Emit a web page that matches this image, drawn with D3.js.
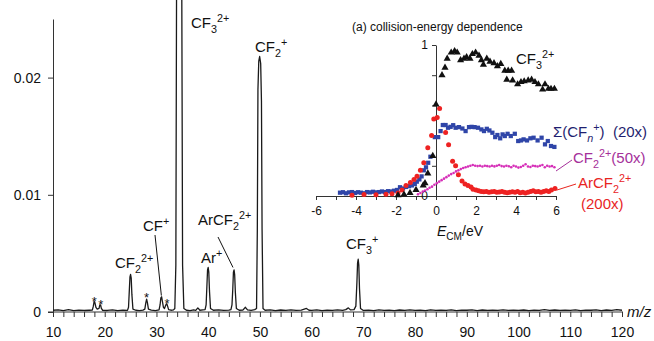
<!DOCTYPE html>
<html>
<head>
<meta charset="utf-8">
<script src="https://cdn.jsdelivr.net/npm/d3@7"></script>
<style>
  body { margin: 0; background: #fff; }
  svg { display: block; font-family: "Liberation Sans", Arial, sans-serif; }
  .axis path, .axis line { stroke: #333; }
</style>
</head>
<body>
<svg id="chart" width="654" height="341"></svg>
<script>
// main spectrum: [m/z, intensity]
const spectrum = [
  [10,0.00015],[11,0.00018],[12,0.00012],[13,0.0002],[14,0.00012],[15,0.00016],[16,0.00013],[17,0.00015],[17.6,0.00016],
  [17.8,0.0005],[17.95,0.0009],[18.1,0.0008],[18.3,0.0004],[18.55,0.00025],
  [18.9,0.0003],[19.05,0.0006],[19.2,0.0006],[19.35,0.0003],[19.6,0.00015],
  [20.5,0.00013],[21.5,0.00018],[22.5,0.00012],[23.5,0.00016],[24.4,0.00014],
  [24.6,0.0004],[24.75,0.0018],[24.88,0.003],[25,0.0032],[25.12,0.0029],[25.25,0.0015],[25.45,0.00025],
  [26,0.00015],[26.7,0.00012],[27.4,0.00016],
  [27.75,0.00025],[27.95,0.0008],[28.1,0.0011],[28.25,0.0008],[28.45,0.00025],
  [29,0.00016],[29.8,0.00012],[30.5,0.00018],
  [30.7,0.0006],[30.85,0.0012],[31,0.0013],[31.15,0.0009],[31.35,0.0004],
  [31.55,0.0003],[31.8,0.0006],[32,0.0007],[32.15,0.0005],[32.35,0.0002],
  [32.8,0.00015],[33.3,0.00018],
  [33.55,0.0003],[33.75,0.004],[33.9,0.03],[34.15,0.4],[34.6,0.4],[34.88,0.03],[35.05,0.004],[35.3,0.0003],
  [35.8,0.00015],[36.5,0.00012],[37.2,0.00018],[37.6,0.00014],[38,0.00035],[38.4,0.00015],[39,0.00018],[39.4,0.0002],
  [39.6,0.0006],[39.75,0.0022],[39.88,0.0036],[40,0.0038],[40.12,0.0034],[40.25,0.0018],[40.45,0.0003],
  [41,0.00015],[42,0.00018],[43,0.00013],[44,0.00016],[44.4,0.0002],
  [44.6,0.0006],[44.75,0.0019],[44.88,0.0034],[45,0.0036],[45.12,0.0032],[45.25,0.0017],[45.45,0.0003],
  [46,0.00015],[46.7,0.00016],[47.2,0.0004],[47.6,0.00018],[48.3,0.00014],[49,0.0002],
  [49.35,0.0003],[49.5,0.007],[49.62,0.019],[49.78,0.0214],[49.95,0.0218],[50.15,0.0212],[50.3,0.018],[50.42,0.007],[50.6,0.0003],
  [51,0.00015],[52,0.00018],[53,0.00012],[54,0.00017],[55,0.00013],[56,0.00018],[57,0.00014],[58,0.00016],[59,0.0003],[59.5,0.00015],
  [60,0.00014],[61,0.00018],[62,0.00012],[63,0.00016],[64,0.00014],[65,0.00018],[66,0.00013],[66.6,0.0002],[67.1,0.00035],[67.5,0.00018],[68.2,0.0002],
  [68.55,0.0005],[68.75,0.0025],[68.88,0.0042],[69,0.0045],[69.12,0.004],[69.25,0.002],[69.45,0.0003],
  [70,0.00013],[71,0.00016],[72,0.00012],[73,0.00018],[74,0.00014],[75,0.00016],[76,0.00012],[77,0.00017],[78,0.00013],[79,0.00018],
  [80,0.00014],[81,0.00016],[82,0.00012],[83,0.00019],[84,0.00014],[85,0.00016],[86,0.00013],[87,0.00018],[88,0.00012],[89,0.00016],
  [90,0.00015],[91,0.00018],[92,0.00012],[93,0.00017],[94,0.00013],[95,0.00016],[96,0.00014],[97,0.00019],[98,0.00013],[99,0.00016],
  [100,0.00014],[101,0.00017],[102,0.00012],[103,0.00016],[104,0.00014],[105,0.0002],[106,0.00013],[107,0.00017],[108,0.00014],[109,0.00016],
  [110,0.00013],[111,0.00018],[112,0.00012],[113,0.00016],[114,0.00015],[115,0.00018],[116,0.00012],[117,0.00017],[118,0.00014],[119,0.0002],[120,0.00015]
]
const xTickLabels = [10, 20, 30, 40, 50, 60, 70, 80, 90, 100, 110, 120]
const yTickLabels = [0, 0.01, 0.02]

// inset: collision-energy dependence, [E_CM, relative yield]
const cf3Dication = [
  [-1.9,0.005],[-1.6,0.01],[-1.3,0.02],[-1.0,0.04],[-0.64,0.07],[-0.55,0.085],[-0.41,0.15],[-0.16,0.265],[0.0,0.607],
  [0.3,0.8],[0.45,0.85],[0.56,0.91],[0.76,0.95],[0.93,0.96],[1.06,0.95],[1.23,0.9],[1.4,0.91],[1.53,0.92],[1.7,0.91],
  [1.82,0.94],[1.98,0.95],[2.15,0.93],[2.27,0.9],[2.37,0.87],[2.54,0.91],[2.7,0.89],[2.9,0.88],[3.07,0.86],[3.24,0.875],
  [3.44,0.83],[3.54,0.77],[3.61,0.83],[3.78,0.83],[3.83,0.765],[4.08,0.74],[4.25,0.755],[4.41,0.76],[4.61,0.765],
  [4.78,0.77],[4.95,0.755],[5.12,0.74],[5.33,0.705],[5.45,0.74],[5.62,0.71],[5.75,0.71],[5.92,0.71]
]
const cfnSum = [
  [-4.8,0.022],[-4.65,0.025],[-4.5,0.018],[-4.35,0.024],[-4.2,0.026],[-4.05,0.02],[-3.9,0.025],[-3.75,0.022],[-3.6,0.018],
  [-3.45,0.026],[-3.3,0.024],[-3.15,0.028],[-3.0,0.024],[-2.85,0.026],[-2.7,0.03],[-2.55,0.026],[-2.4,0.032],[-2.25,0.03],
  [-2.1,0.035],[-1.95,0.04],[-1.8,0.058],[-1.65,0.05],[-1.5,0.06],[-1.35,0.065],[-1.2,0.07],[-1.06,0.08],[-0.96,0.095],
  [-0.83,0.11],[-0.72,0.13],[-0.61,0.17],[-0.5,0.19],[-0.39,0.22],[-0.28,0.26],[-0.06,0.39],[0.11,0.39],[0.23,0.43],
  [0.34,0.47],[0.48,0.47],[0.6,0.452],[0.73,0.458],[0.86,0.469],[0.98,0.452],[1.15,0.456],[1.32,0.447],[1.48,0.43],
  [1.65,0.456],[1.78,0.458],[1.93,0.456],[2.1,0.452],[2.27,0.441],[2.4,0.43],[2.54,0.445],[2.67,0.434],[2.82,0.419],
  [2.96,0.39],[3.07,0.404],[3.21,0.382],[3.33,0.408],[3.44,0.397],[3.58,0.412],[3.74,0.397],[3.94,0.412],[4.11,0.364],
  [4.25,0.368],[4.38,0.375],[4.55,0.368],[4.72,0.382],[4.88,0.386],[5.08,0.368],[5.28,0.386],[5.45,0.342],[5.59,0.364],
  [5.75,0.331],[5.92,0.325]
]
const cf2Dication = [
  [-0.9,0.012],[-0.78,0.02],[-0.66,0.03],[-0.55,0.036],[-0.43,0.045],[-0.32,0.055],[-0.2,0.062],[-0.08,0.075],[0.04,0.085],
  [0.16,0.095],[0.28,0.105],[0.4,0.115],[0.52,0.125],[0.64,0.135],[0.76,0.145],[0.88,0.152],[1.0,0.163],[1.12,0.17],
  [1.24,0.178],[1.36,0.185],[1.48,0.19],[1.6,0.195],[1.72,0.2],[1.84,0.205],[1.96,0.2],[2.08,0.198],[2.2,0.2],[2.32,0.195],
  [2.44,0.2],[2.56,0.198],[2.68,0.195],[2.8,0.2],[2.92,0.196],[3.04,0.2],[3.16,0.205],[3.28,0.198],[3.4,0.195],[3.52,0.2],
  [3.64,0.197],[3.76,0.19],[3.88,0.2],[4.0,0.195],[4.12,0.188],[4.24,0.192],[4.36,0.2],[4.48,0.21],[4.6,0.195],[4.72,0.192],
  [4.84,0.2],[4.96,0.198],[5.08,0.195],[5.2,0.2],[5.32,0.205],[5.44,0.19],[5.56,0.2],[5.68,0.195],[5.8,0.198],[5.92,0.19]
]
const arcf2Dication = [
  [-4.2,0.005],[-3.6,0.01],[-3.0,0.008],[-2.5,0.012],[-2.2,0.015],[-1.9,0.02],[-1.7,0.04],[-1.5,0.07],[-1.28,0.09],
  [-1.1,0.11],[-0.95,0.13],[-0.78,0.17],[-0.61,0.22],[-0.41,0.32],[-0.22,0.4],[-0.11,0.51],[0.06,0.52],[0.18,0.58],
  [0.48,0.42],[0.63,0.34],[0.83,0.23],[0.98,0.2],[1.12,0.14],[1.3,0.1],[1.45,0.08],[1.6,0.07],[1.75,0.06],[1.85,0.045],
  [2.0,0.04],[2.13,0.035],[2.26,0.03],[2.39,0.028],[2.52,0.03],[2.65,0.025],[2.78,0.028],[2.91,0.03],[3.04,0.025],
  [3.17,0.027],[3.3,0.03],[3.43,0.025],[3.56,0.022],[3.69,0.025],[3.82,0.028],[3.95,0.025],[4.08,0.03],[4.21,0.022],
  [4.34,0.025],[4.47,0.02],[4.6,0.025],[4.73,0.03],[4.86,0.035],[4.99,0.028],[5.12,0.03],[5.25,0.025],[5.38,0.03],
  [5.51,0.035],[5.64,0.03],[5.77,0.04],[5.95,0.05]
]
const insetXTickLabels = [-6, -4, -2, 0, 2, 4, 6]
const insetYTickLabels = [0, 1]

const svg = d3.select('#chart')
const font = '"Liberation Sans", Arial, sans-serif'

const x = d3.scaleLinear().domain([10, 120]).range([53, 622])
const y = d3.scaleLinear().domain([0, 0.025]).range([312, 19])

// rich text with sub/superscripts
function rich(g, px, py, parts, size, color) {
  const t = g.append('text').attr('x', px).attr('y', py)
    .attr('font-size', size).attr('fill', color || '#111')
  let shift = 0
  parts.forEach(p => {
    const [kind, str] = typeof p === 'string' ? ['n', p] : p
    const target = kind.startsWith('sub') ? size * 0.3 : kind === 'sup' ? -size * 0.42 : 0
    const ts = t.append('tspan').attr('dy', target - shift).text(str)
    if (kind !== 'n' && kind !== 'it') ts.attr('font-size', size * 0.72)
    if (kind === 'it' || kind === 'subit') ts.attr('font-style', 'italic')
    shift = target
  })
  return t
}

// ---- main axes
const xAxis = d3.axisBottom(x)
  .tickValues(d3.range(10, 121, 2))
  .tickSize(5).tickSizeOuter(0).tickPadding(10)
  .tickFormat(d => xTickLabels.includes(d) ? String(d) : '')
const gx = svg.append('g').attr('class', 'axis')
  .attr('transform', `translate(0,${y(0)})`).call(xAxis)
gx.select('.domain').remove()
gx.append('line').attr('x1', 48).attr('x2', 623).attr('stroke', '#333')
gx.selectAll('text').attr('font-size', 14).attr('font-family', font).attr('fill', '#111')

const yAxis = d3.axisLeft(y)
  .tickValues(yTickLabels)
  .tickSize(5).tickSizeOuter(0).tickPadding(7)
  .tickFormat(d => d === 0 ? '0' : d3.format('.2f')(d))
const gy = svg.append('g').attr('class', 'axis')
  .attr('transform', `translate(${x(10)},0)`).call(yAxis)
gy.selectAll('text').attr('font-size', 14).attr('font-family', font).attr('fill', '#111')

svg.append('defs').append('clipPath').attr('id', 'plotclip')
  .append('rect').attr('x', 0).attr('y', 0).attr('width', 654).attr('height', 314)

svg.append('path')
  .datum(spectrum)
  .attr('clip-path', 'url(#plotclip)')
  .attr('fill', 'none')
  .attr('stroke', '#1a1a1a')
  .attr('stroke-width', 1.3)
  .attr('stroke-linejoin', 'round')
  .attr('d', d3.line().x(d => x(d[0])).y(d => y(d[1])))

// main labels
const lab = svg.append('g')
rich(lab, 191, 28, ['CF', ['sub', '3'], ['sup', '2+']], 15)
rich(lab, 255, 52, ['CF', ['sub', '2'], ['sup', '+']], 15)
rich(lab, 115, 268, ['CF', ['sub', '2'], ['sup', '2+']], 15)
rich(lab, 143, 231, ['CF', ['sup', '+']], 15)
rich(lab, 201, 263, ['Ar', ['sup', '+']], 15)
rich(lab, 198, 225, ['ArCF', ['sub', '2'], ['sup', '2+']], 15)
rich(lab, 346, 249, ['CF', ['sub', '3'], ['sup', '+']], 15)
rich(lab, 627, 317, [['it', 'm/z']], 15)
lab.append('line').attr('x1', 155).attr('y1', 235).attr('x2', x(30.95)).attr('y2', y(0.0014))
  .attr('stroke', '#111')
lab.append('line').attr('x1', 218).attr('y1', 237).attr('x2', x(44.8)).attr('y2', y(0.0038))
  .attr('stroke', '#111')
;[[18, 306], [19.25, 309], [28.1, 302], [32.05, 308]].forEach(([m, py]) => {
  lab.append('text').attr('x', x(m)).attr('y', py).attr('text-anchor', 'middle')
    .attr('font-size', 13).attr('fill', '#111').text('*')
})

// ---- inset
const xi = d3.scaleLinear().domain([-6, 6]).range([316, 556])
const yi = d3.scaleLinear().domain([0, 1]).range([196, 45])
const inset = svg.append('g')

rich(inset, 352, 31, ['(a) collision-energy dependence'], 12)

const gxi = inset.append('g').attr('class', 'axis')
  .attr('transform', `translate(0,${yi(0)})`)
  .call(d3.axisBottom(xi).tickValues(d3.range(-6, 7, 1)).tickSize(4).tickSizeOuter(0).tickPadding(6)
    .tickFormat(d => insetXTickLabels.includes(d) ? String(d) : ''))
gxi.selectAll('text').attr('font-size', 12).attr('font-family', font).attr('fill', '#111')

const gyi = inset.append('g').attr('class', 'axis')
  .attr('transform', `translate(${xi(0)},0)`)
  .call(d3.axisLeft(yi).tickValues([0, 0.2, 0.4, 0.6, 0.8, 1]).tickSize(4).tickSizeOuter(0).tickPadding(4)
    .tickFormat(d => insetYTickLabels.includes(d) ? String(d) : ''))
gyi.selectAll('text').attr('font-size', 12).attr('font-family', font).attr('fill', '#111')

const blue = '#2f45a8', red = '#ee2222', magenta = '#d62fb8'

inset.append('g').selectAll('path').data(cfnSum).join('path')
  .attr('transform', d => `translate(${xi(d[0])},${yi(d[1])})`)
  .attr('d', d3.symbol(d3.symbolSquare).size(18))
  .attr('fill', blue)

inset.append('g').selectAll('circle').data(cf2Dication).join('circle')
  .attr('cx', d => xi(d[0])).attr('cy', d => yi(d[1])).attr('r', 1.3)
  .attr('fill', magenta)

inset.append('g').selectAll('circle').data(arcf2Dication).join('circle')
  .attr('cx', d => xi(d[0])).attr('cy', d => yi(d[1])).attr('r', 2.5)
  .attr('fill', red)

inset.append('g').selectAll('path').data(cf3Dication).join('path')
  .attr('transform', d => `translate(${xi(d[0])},${yi(d[1])})`)
  .attr('d', d3.symbol(d3.symbolTriangle).size(22))
  .attr('fill', '#111')

rich(inset, 516, 64, ['CF', ['sub', '3'], ['sup', '2+']], 15)
rich(inset, 553, 137, ['\u03a3(CF', ['subit', 'n'], ['sup', '+'], ')\u00a0\u00a0(20x)'], 15, '#1f1f70')
rich(inset, 573, 163, ['CF', ['sub', '2'], ['sup', '2+'], '(50x)'], 15, '#a5309a')
rich(inset, 578, 188, ['ArCF', ['sub', '2'], ['sup', '2+']], 15, '#e8251f')
rich(inset, 581, 209, ['(200x)'], 15, '#e8251f')
rich(inset, 437, 236, [['it', 'E'], ['sub', 'CM'], '/eV'], 14)
inset.append('line').attr('x1', 556).attr('y1', 171).attr('x2', 572).attr('y2', 160)
  .attr('stroke', '#a5309a')
inset.append('line').attr('x1', 557).attr('y1', 190).attr('x2', 576).attr('y2', 184)
  .attr('stroke', '#e8251f')
</script>
</body>
</html>
